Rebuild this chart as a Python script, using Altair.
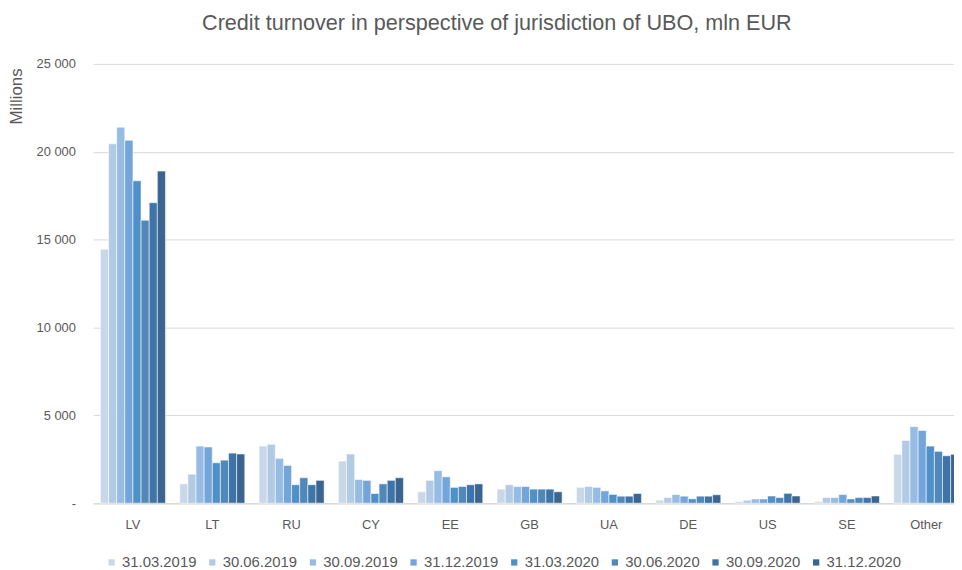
import altair as alt
import pandas as pd

countries = ["LV", "LT", "RU", "CY", "EE", "GB", "UA", "DE", "US", "SE", "Other"]
dates = ["31.03.2019", "30.06.2019", "30.09.2019", "31.12.2019",
         "31.03.2020", "30.06.2020", "30.09.2020", "31.12.2020"]
colors = ["#c8d8e9", "#b2cae3", "#97bce4", "#74a5da",
          "#5090c9", "#5088b9", "#3f74a9", "#3a6591"]

LV = [14450, 20450, 21400, 20650, 18350, 16100, 17100, 18900]
LT = [1100, 1650, 3250, 3200, 2300, 2450, 2850, 2800]
RU = [3250, 3350, 2550, 2150, 1050, 1450, 1050, 1300]
CY = [2400, 2800, 1350, 1300, 550, 1100, 1300, 1450]
EE = [650, 1300, 1850, 1500, 900, 950, 1050, 1100]
GB = [800, 1050, 950, 950, 800, 800, 800, 650]
UA = [900, 950, 900, 700, 500, 400, 400, 550]
DE = [170, 320, 490, 400, 250, 400, 400, 480]
US = [90, 170, 240, 240, 410, 320, 560, 410]
SE = [90, 320, 320, 490, 240, 320, 320, 410]
OTHER = [2780, 3570, 4360, 4140, 3250, 2950, 2700, 2780]

series = [LV, LT, RU, CY, EE, GB, UA, DE, US, SE, OTHER]
rows = []
for c, vals in zip(countries, series):
    for d, v in zip(dates, vals):
        rows.append({"country": c, "date": d, "value": v})
df = pd.DataFrame(rows)

FONT = "Liberation Sans"
GREY = "#595959"

chart = alt.Chart(df).mark_bar(
    stroke="white", strokeWidth=1, strokeOpacity=0.55
).encode(
    x=alt.X("country:N", sort=countries,
            scale=alt.Scale(range=[0, 880], paddingInner=0.18, paddingOuter=0.09),
            axis=alt.Axis(title=None, labelAngle=0, ticks=False, labelPadding=16,
                          labelFontSize=13, labelColor=GREY, labelFont=FONT,
                          domainColor="#d9d9d9", domainWidth=1.5, grid=False)),
    xOffset=alt.XOffset("date:N", sort=dates,
                        scale=alt.Scale(paddingInner=0, paddingOuter=0)),
    y=alt.Y("value:Q",
            scale=alt.Scale(domain=[0, 25000], nice=False),
            axis=alt.Axis(title="Millions", values=[0, 5000, 10000, 15000, 20000, 25000],
                          labelExpr="datum.value == 0 ? '-' : replace(format(datum.value, ','), ',', ' ')",
                          domain=False, ticks=False, labelPadding=18,
                          labelFontSize=13, labelColor=GREY, labelFont=FONT,
                          gridColor="#d9d9d9", gridWidth=1,
                          titleFont=FONT, titleFontSize=17, titleColor=GREY,
                          titleFontWeight="normal", titleAngle=270,
                          titleX=-77, titleY=4, titleAlign="right",
                          titleBaseline="middle")),
    color=alt.Color("date:N", sort=dates,
                    scale=alt.Scale(domain=dates, range=colors),
                    legend=alt.Legend(title=None, orient="none", direction="horizontal",
                                      legendX=11, legendY=495, symbolType="square",
                                      symbolSize=40, symbolStrokeWidth=0,
                                      labelFont=FONT, labelFontSize=15, labelColor=GREY,
                                      labelOffset=3, columnPadding=7.5, padding=0)),
).properties(
    width=868,
    height=443,
    title=alt.TitleParams("Credit turnover in perspective of jurisdiction of UBO, mln EUR",
                          anchor="middle", dx=-27, offset=23, font=FONT,
                          fontSize=21.8, fontWeight="normal", color=GREY),
    autosize=alt.AutoSizeParams(type="none"),
    padding={"left": 86, "top": 54, "right": 0, "bottom": 65},
).configure_view(stroke=None)

chart.save("out.html", embed_options={"renderer": "svg", "actions": False})
